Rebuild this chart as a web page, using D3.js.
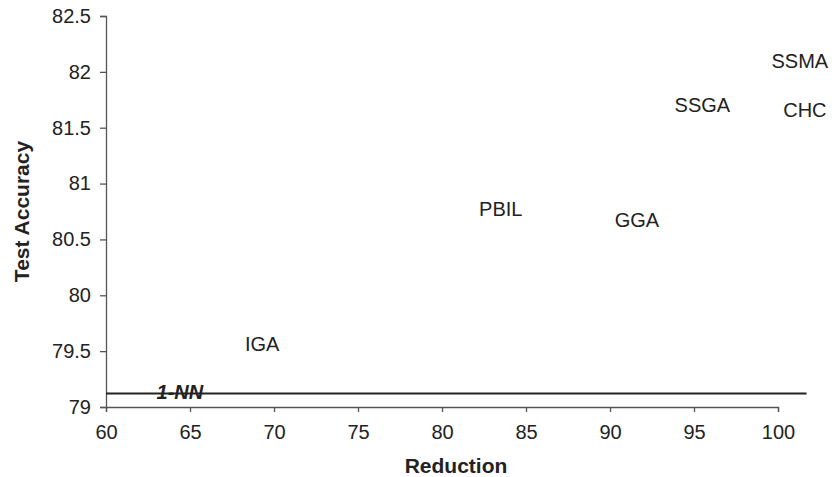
<!DOCTYPE html>
<html>
<head>
<meta charset="utf-8">
<script src="https://cdn.jsdelivr.net/npm/d3@7"></script>
<style>
  body { margin: 0; background: #fff; }
  text { font-family: "Liberation Sans", Arial, sans-serif; fill: #222; }
</style>
</head>
<body>
<div id="chart"></div>
<script>
// algorithm names and where their labels sit (reduction %, test accuracy %)
var methods = ["IGA", "PBIL", "GGA", "SSGA", "CHC", "SSMA"];
var reduction = [69.3, 83.5, 91.6, 95.5, 101.6, 101.3];
var accuracy = [79.56, 80.77, 80.67, 81.70, 81.66, 82.10];

// 1-NN baseline
var nnAccuracy = 79.12;
var nnRange = [60, 101.7];
var nnLabelX = 64.4;

var xTicks = [60, 65, 70, 75, 80, 85, 90, 95, 100];
var yTicks = [79, 79.5, 80, 80.5, 81, 81.5, 82, 82.5];

var width = 832, height = 477;
var plotLeft = 106, plotRight = 778, plotTop = 16, plotBottom = 407;

var svg = d3.select("#chart").append("svg")
  .attr("width", width)
  .attr("height", height);

var x = d3.scaleLinear().domain([60, 100]).range([plotLeft, plotRight]);
var y = d3.scaleLinear().domain([79, 82.5]).range([plotBottom, plotTop]);

// x axis
var xAxis = svg.append("g")
  .attr("transform", "translate(0," + plotBottom + ")")
  .call(d3.axisBottom(x).tickValues(xTicks).tickSize(5).tickPadding(13).tickFormat(d3.format("d")));

// y axis
var yAxis = svg.append("g")
  .attr("transform", "translate(" + plotLeft + ",0)")
  .call(d3.axisLeft(y).tickValues(yTicks).tickSize(6).tickPadding(9).tickFormat(function(d) { return String(d); }));

[xAxis, yAxis].forEach(function(a) {
  a.attr("font-family", null).attr("font-size", null);
  a.select(".domain").attr("stroke", "#555").attr("stroke-width", 1.3);
  a.selectAll(".tick line").attr("stroke", "#555").attr("stroke-width", 1.3);
  a.selectAll("text").style("font-size", "20px").attr("fill", "#222");
});

// 1-NN line
svg.append("line")
  .attr("x1", x(nnRange[0]))
  .attr("x2", x(nnRange[1]))
  .attr("y1", y(nnAccuracy))
  .attr("y2", y(nnAccuracy))
  .attr("stroke", "#222")
  .attr("stroke-width", 2);

svg.append("text")
  .attr("x", x(nnLabelX))
  .attr("y", y(nnAccuracy) - 2)
  .attr("dy", "0.35em")
  .attr("text-anchor", "middle")
  .style("font-size", "20px")
  .style("font-weight", "bold")
  .style("font-style", "italic")
  .text("1-NN");

// method labels
svg.selectAll(".lbl")
  .data(methods)
  .enter().append("text")
  .attr("class", "lbl")
  .attr("x", function(d, i) { return x(reduction[i]); })
  .attr("y", function(d, i) { return y(accuracy[i]); })
  .attr("dy", "0.35em")
  .attr("text-anchor", "middle")
  .style("font-size", "20px")
  .text(function(d) { return d; });

// axis titles
svg.append("text")
  .attr("x", 456)
  .attr("y", 473)
  .attr("text-anchor", "middle")
  .style("font-size", "21px")
  .style("font-weight", "bold")
  .text("Reduction");

svg.append("text")
  .attr("transform", "translate(29," + ((plotTop + plotBottom) / 2) + ")rotate(-90)")
  .attr("text-anchor", "middle")
  .style("font-size", "21px")
  .style("font-weight", "bold")
  .text("Test Accuracy");
</script>
</body>
</html>
